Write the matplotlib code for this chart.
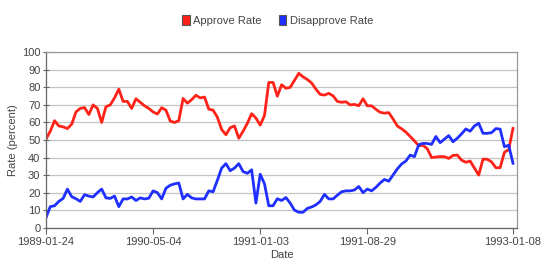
import numpy as np
import matplotlib
matplotlib.use('Agg')
import matplotlib.pyplot as plt
from matplotlib.patches import Patch

plt.rcParams['font.family'] = ['Liberation Sans', 'DejaVu Sans']

# poll values (one point per poll, in order)
approve = [50.5, 55, 61, 58, 57.5, 56.5, 59, 66, 68, 68.5,
           64.5, 70, 68, 60, 69, 70, 74, 79, 72, 72,
           68, 73.5, 71.5, 69.5, 68, 66, 64.8, 68.4, 67, 60.8,
           60, 61, 73.7, 71, 73, 75.5, 74, 74.5, 67.6, 67,
           63, 56, 53, 57, 58, 51, 55, 59.5, 65, 62.5,
           58.5, 64, 82.8, 82.8, 75, 81.5, 79.5, 80, 84, 88,
           86, 84.5, 82.5, 79, 76, 75.6, 76.6, 75.2, 72, 71.5,
           71.8, 70, 70.3, 69.5, 73.5, 69.5, 69.5, 67.5, 65.8, 65.3,
           65.6, 62, 58, 56.4, 54.5, 52, 49.5, 46.7, 47, 45,
           40, 40.3, 40.5, 40.5, 39.5, 41.2, 41.4, 38.5, 37.3, 38,
           34, 30, 39.1, 39, 37.5, 34.2, 34.2, 43, 44.5, 56.6]
disapprove = [5.7, 12, 12.5, 15, 16.7, 22, 17.7, 16.5, 15, 18.8,
              18, 17.5, 20, 22, 17, 16.7, 18, 12, 16.4, 16.4,
              17.5, 15.5, 17, 16.4, 16.8, 21, 20, 16.4, 22.5, 24.2,
              25, 25.5, 16.4, 19, 17, 16.4, 16.4, 16.4, 21, 20.5,
              27, 34, 36.5, 32.5, 34, 36.5, 32, 31, 33, 14,
              30.5, 25, 12.5, 12.5, 16.5, 15.5, 17.2, 14, 10, 8.8,
              8.8, 11, 11.8, 13, 15, 19, 16.4, 16.4, 18.5, 20.5,
              21, 21, 21.5, 23.5, 20, 22, 21, 23, 25.5, 27.5,
              26.5, 30, 33.5, 36.3, 38, 41.4, 40.5, 47.3, 48.1, 48,
              47.5, 52, 48.5, 50.5, 52.5, 49, 51, 53.5, 56.3, 55,
              58, 59.5, 53.8, 53.8, 54.2, 56.5, 56.2, 46.2, 47, 36.7]
tick_idx = [0, 25, 50, 75, 109]
tick_labels = ['1989-01-24', '1990-05-04', '1991-01-03', '1991-08-29', '1993-01-08']

red = '#ff2218'
blue = '#1f2fff'
txt = '#444444'

fig = plt.figure(figsize=(5.5, 2.7), dpi=100)
ax = fig.add_axes([0.0836, 0.1567, 0.9405 - 0.0836, 0.8063 - 0.1567])

x = np.arange(len(approve))
ax.plot(x, approve, color=red, lw=2.0, solid_joinstyle='round')
ax.plot(x, disapprove, color=blue, lw=2.0, solid_joinstyle='round')

ax.set_xlim(0, 110)
ax.set_ylim(0, 100)
ax.set_yticks(range(0, 101, 10))
ax.set_xticks(tick_idx)
ax.set_xticklabels(tick_labels)
ax.yaxis.grid(True, color='#c4c4c4', lw=0.9)
ax.set_axisbelow(True)

for s in ['top', 'right']:
    ax.spines[s].set_color('#999999')
    ax.spines[s].set_linewidth(0.9)
for s in ['left', 'bottom']:
    ax.spines[s].set_color('#666666')
    ax.spines[s].set_linewidth(0.9)

ax.tick_params(axis='both', colors='#666666', labelcolor=txt, labelsize=8,
               length=4, width=0.8, direction='inout')
ax.tick_params(axis='x', direction='out', pad=3)
ax.tick_params(axis='y', pad=2)

ax.set_xlabel('Date', fontsize=8, color=txt, labelpad=2)
ax.set_ylabel('Rate (percent)', fontsize=8, color=txt, labelpad=3)

handles = [Patch(facecolor=red, edgecolor='#555555', lw=0.8),
           Patch(facecolor=blue, edgecolor='#555555', lw=0.8)]
fig.legend(handles, ['Approve Rate', 'Disapprove Rate'], loc='center',
           bbox_to_anchor=(0.505, 0.925), ncol=2, frameon=False, fontsize=8,
           handlelength=0.7, handleheight=1.0, handletextpad=0.3,
           columnspacing=1.5, labelcolor=txt)

fig.savefig('out.png', dpi=100)
